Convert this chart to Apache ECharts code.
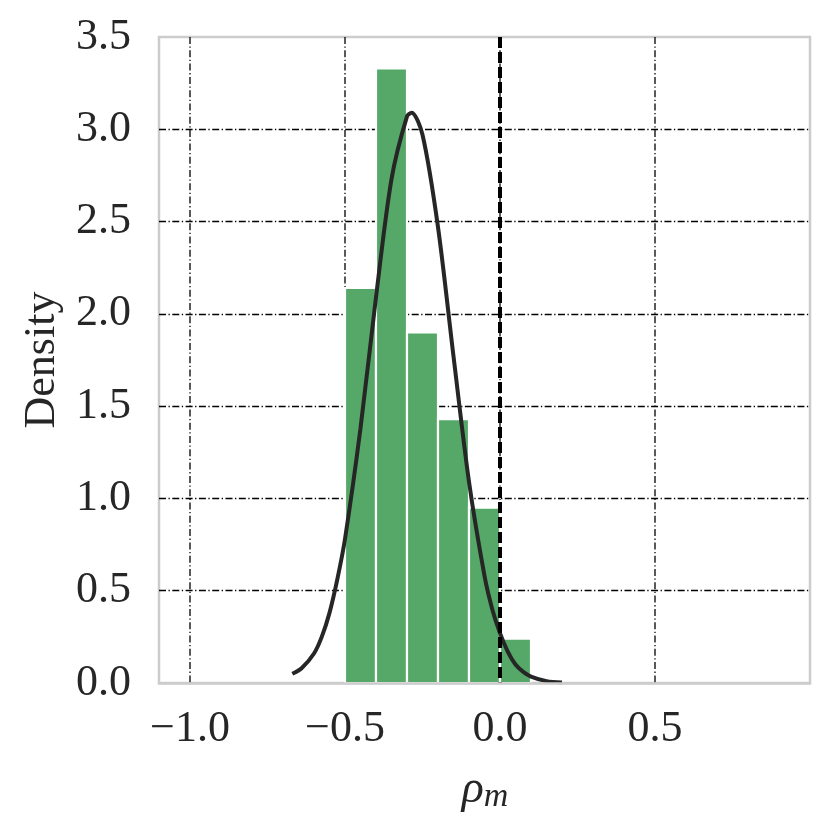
<!DOCTYPE html>
<html>
<head>
<meta charset="utf-8">
<script src="https://cdn.jsdelivr.net/npm/echarts@6/dist/echarts.min.js"></script>
<style>html,body{margin:0;padding:0;background:#fff;}#c{width:831px;height:831px;}</style>
</head>
<body>
<div id="c"></div>
<script>
// Histogram bins (edges) and density heights
const binLeft  = [-0.5, -0.4, -0.3, -0.2, -0.1, 0.0];
const binRight = [-0.4, -0.3, -0.2, -0.1, 0.0, 0.1];
const binDensity = [2.14, 3.33, 1.90, 1.43, 0.95, 0.24];

// Fitted curve points
const curveX = [-0.67, -0.64, -0.6, -0.575, -0.55, -0.525, -0.5, -0.45, -0.4, -0.35, -0.3, -0.285, -0.25, -0.2, -0.15, -0.1, -0.05, -0.025, 0.0, 0.025, 0.05, 0.075, 0.1, 0.15, 0.2];
const curveY = [0.05, 0.08, 0.16, 0.25, 0.38, 0.56, 0.78, 1.38, 2.09, 2.73, 3.07, 3.09, 2.97, 2.47, 1.77, 1.09, 0.58, 0.40, 0.27, 0.17, 0.10, 0.06, 0.035, 0.01, 0.003];

// Axis ticks
const xTicks = [-1.0, -0.5, 0.0, 0.5];
const xMin = -1.1, xMax = 1.0;
const yMin = 0, yMax = 3.5, yStep = 0.5;

// Reference line
const refX = [0.0];

const FONT = 'Liberation Serif';
const TXT = '#262626';
const dashDot = [7, 2.5, 1.3, 2.5];

const chart = echarts.init(document.getElementById('c'), null, {renderer: 'canvas'});

const histData = binLeft.map((l, i) => [l, binRight[i], binDensity[i]]);
const curveData = curveX.map((x, i) => [x, curveY[i]]);

function vLineRenderer(style) {
  return function (params, api) {
    const v = api.value(0);
    const cs = params.coordSys;
    const p = api.coord([v, 0]);
    return {
      type: 'line',
      shape: {x1: p[0], y1: cs.y, x2: p[0], y2: cs.y + cs.height},
      style: style
    };
  };
}

const option = {
  backgroundColor: '#fff',
  animation: false,
  grid: {
    left: 159, right: 21, top: 37, bottom: 148,
    show: true, borderColor: '#cccccc', borderWidth: 2.5,
    containLabel: false, outerBoundsMode: 'none'
  },
  xAxis: {
    type: 'value', min: xMin, max: xMax,
    z: 10,
    axisLine: {show: true, lineStyle: {color: '#cccccc', width: 2.5}},
    axisTick: {show: false},
    splitLine: {show: false},
    axisLabel: {
      customValues: xTicks,
      margin: 24,
      fontFamily: FONT, fontSize: 44, color: TXT,
      formatter: v => (v < 0 ? '\u2212' + Math.abs(v).toFixed(1) : v.toFixed(1))
    }
  },
  yAxis: {
    type: 'value', min: yMin, max: yMax, interval: yStep,
    name: 'Density', nameLocation: 'middle', nameGap: 95, nameRotate: 90,
    nameTextStyle: {fontFamily: FONT, fontSize: 44, color: TXT},
    axisLine: {show: false},
    axisTick: {show: false},
    axisLabel: {margin: 28, fontFamily: FONT, fontSize: 44, color: TXT, formatter: v => v.toFixed(1)},
    splitLine: {show: true, showMinLine: false, showMaxLine: false,
      lineStyle: {color: '#000', width: 1.3, type: dashDot}}
  },
  graphic: [{
    type: 'text', x: 485, y: 790, z: 20,
    style: {
      text: '{a|\u03C1}{b|m}',
      align: 'center', verticalAlign: 'middle',
      rich: {
        a: {fontFamily: FONT, fontStyle: 'italic', fontSize: 46, lineHeight: 50, fill: TXT},
        b: {fontFamily: FONT, fontStyle: 'italic', fontSize: 34, lineHeight: 50, padding: [14, 0, 0, 0], fill: TXT}
      }
    }
  }],
  series: [
    {
      type: 'custom', z: 1, silent: true,
      data: xTicks.map(v => [v]),
      encode: {x: 0},
      renderItem: vLineRenderer({stroke: '#000', lineWidth: 1.3, lineDash: dashDot})
    },
    {
      type: 'custom', z: 2, silent: true,
      data: histData,
      encode: {x: [0, 1], y: 2},
      renderItem: function (params, api) {
        const p0 = api.coord([api.value(0), api.value(2)]);
        const p1 = api.coord([api.value(1), 0]);
        return {
          type: 'rect',
          shape: {x: p0[0], y: p0[1], width: p1[0] - p0[0], height: p1[1] - p0[1]},
          style: {fill: '#55a868', stroke: '#ffffff', lineWidth: 2.2}
        };
      }
    },
    {
      type: 'line', z: 3, silent: true,
      data: curveData, smooth: 0.3, showSymbol: false, symbol: 'none',
      lineStyle: {color: '#262626', width: 4}
    },
    {
      type: 'custom', z: 4, silent: true,
      data: refX.map(v => [v]),
      encode: {x: 0},
      renderItem: vLineRenderer({stroke: '#000', lineWidth: 4, lineDash: [11, 4]})
    }
  ]
};
chart.setOption(option);
</script>
</body>
</html>
